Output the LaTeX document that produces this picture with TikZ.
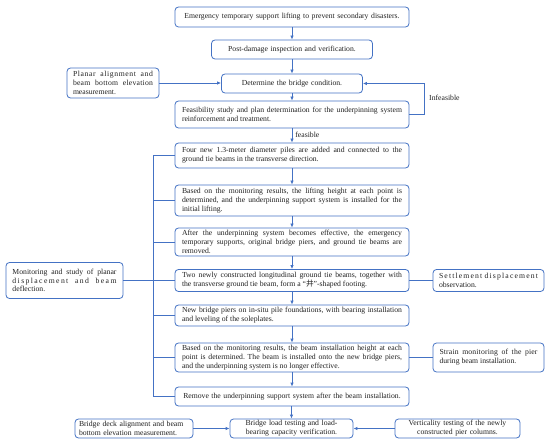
\documentclass[tikz,border=0pt]{standalone}
\usepackage{fontspec}
\setmainfont{Liberation Serif}
\newfontfamily\cjk{Noto Sans CJK SC}
\usetikzlibrary{arrows.meta}
\definecolor{bl}{HTML}{4472C4}
\definecolor{tx}{HTML}{222222}
\frenchspacing
\newcommand\fs{\fontsize{7.7}{8.8}\selectfont\hyphenpenalty=10000\exhyphenpenalty=10000}
\newcommand\lsp[2]{{\addfontfeature{LetterSpace=#1}#2}}
\tikzset{
  bx/.style={draw=bl, line width=0.8pt, rounded corners=3.5pt, fill=white,
    inner xsep=0pt, inner ysep=0pt, font=\fs, text=tx},
  mainbox/.style={bx, minimum width=234pt, text width=220pt, align=justify},
  cbox/.style={bx, align=center},
  conn/.style={draw=bl, line width=0.8pt},
  arr/.style={conn, -{Latex[length=4pt,width=3.5pt]}},
  lbl/.style={font=\fs, text=tx, inner sep=0pt}
}
\begin{document}
\begin{tikzpicture}[x=1pt,y=-1pt]
\useasboundingbox (0,0) rectangle (550,444);
% main column
\node[cbox, minimum width=234pt, minimum height=20pt, text width=228pt] (n1) at (292,17)
  {Emergency temporary support lifting to prevent secondary disasters.};
\node[cbox, minimum width=161pt, minimum height=19pt, text width=157pt] (n2) at (292,49.5)
  {Post-damage inspection and verification.};
\node[cbox, minimum width=141pt, minimum height=19pt, text width=137pt] (n3) at (292,83.5)
  {Determine the bridge condition.};
\node[mainbox, minimum height=27pt] (n4) at (292,114.5)
  {Feasibility study and plan determination for the underpinning system\linebreak reinforcement and treatment.};
\node[mainbox, minimum height=25pt] (n5) at (292,155.5)
  {Four new 1.3-meter diameter piles are added and connected to the\linebreak ground tie beams in the transverse direction.};
\node[mainbox, minimum height=31pt] (n6) at (292,200.5)
  {Based on the monitoring results, the lifting height at each point is\linebreak determined, and the underpinning support system is installed for the\linebreak initial lifting.};
\node[mainbox, minimum height=28pt] (n7) at (292,242)
  {After the underpinning system becomes effective, the emergency\linebreak temporary supports, original bridge piers, and ground tie beams are\linebreak removed.};
\node[mainbox, minimum height=22pt] (n8) at (292,280.5)
  {Two newly constructed longitudinal ground tie beams, together with\linebreak the transverse ground tie beam, form a ``{\cjk 井}''-shaped footing.};
\node[mainbox, minimum height=21pt] (n9) at (292,315.5)
  {New bridge piers on in-situ pile foundations, with bearing installation\linebreak and leveling of the soleplates.};
\node[mainbox, minimum height=29pt] (n10) at (292,357.5)
  {Based on the monitoring results, the beam installation height at each\linebreak point is determined. The beam is installed onto the new bridge piers,\linebreak and the underpinning system is no longer effective.};
\node[cbox, minimum width=234pt, minimum height=19pt, text width=228pt] (n11) at (292,396.5)
  {Remove the underpinning support system after the beam installation.};
\node[cbox, minimum width=123pt, minimum height=19pt, text width=120pt] (n12) at (291.5,428.5)
  {Bridge load testing and load-\\bearing capacity verification.};
% side boxes
\node[bx, minimum width=92pt, minimum height=30pt, text width=80pt, align=justify] (p) at (113,83)
  {\lsp{8}{Planar alignment and}\linebreak \lsp{3}{beam bottom elevation}\linebreak measurement.};
\node[bx, minimum width=117pt, minimum height=36pt, text width=104pt, align=justify] (m) at (64.5,280.5)
  {Monitoring and study of planar\linebreak \lsp{18}{displacement and beam}\linebreak deflection.};
\node[bx, minimum width=111pt, minimum height=22pt, text width=99pt, align=justify] (s) at (488.5,280.5)
  {\lsp{15}{Settlement displacement}\linebreak observation.};
\node[bx, minimum width=111pt, minimum height=29pt, text width=98pt, align=justify] (st) at (488.5,357.5)
  {\lsp{2}{Strain monitoring of the pier}\linebreak during beam installation.};
\node[bx, minimum width=118pt, minimum height=19pt, text width=110pt, align=left] (bd) at (134,428.5)
  {Bridge deck alignment and beam\\bottom elevation measurement.};
\node[cbox, minimum width=125pt, minimum height=19pt, text width=122pt] (v) at (457.5,428.5)
  {Verticality testing of the newly\\constructed pier columns.};
% vertical arrows
\draw[arr] (n1) -- (n2);
\draw[arr] (n2) -- (n3);
\draw[arr] (n3) -- (n4);
\draw[arr] (n4) -- node[lbl, right=3pt, pos=0.45] {feasible} (n5);
\draw[arr] (n5) -- (n6);
\draw[arr] (n6) -- (n7);
\draw[arr] (n7) -- (n8);
\draw[arr] (n8) -- (n9);
\draw[arr] (n9) -- (n10);
\draw[arr] (n10) -- (n11);
\draw[arr] (n11.south -| n12.north) -- (n12.north);
% infeasible loop
\coordinate (loop) at (424,0);
\draw[arr] (n4.east) -- (n4.east -| loop) -- (n3.east -| loop) -- (n3.east);
\node[lbl, anchor=west] (inf) at (429,98) {Infeasible};
% side arrows
\draw[arr] (p.east) -- (p.east -| n3.west);
\draw[arr] (bd.east) -- (n12.west);
\draw[arr] (v.west) -- (n12.east);
% bus
\coordinate (bus) at (153,0);
\draw[conn] (n5.west) -- (n5.west -| bus) -- (n11.west -| bus) -- (n11.west);
\foreach \k in {n6,n7,n8,n9,n10} \draw[conn] (\k.west) -- (\k.west -| bus);
\draw[conn] (m.east) -- (m.east -| bus);
\draw[conn] (n8.east) -- (s.west);
\draw[conn] (n10.east) -- (st.west);
\end{tikzpicture}
\end{document}
